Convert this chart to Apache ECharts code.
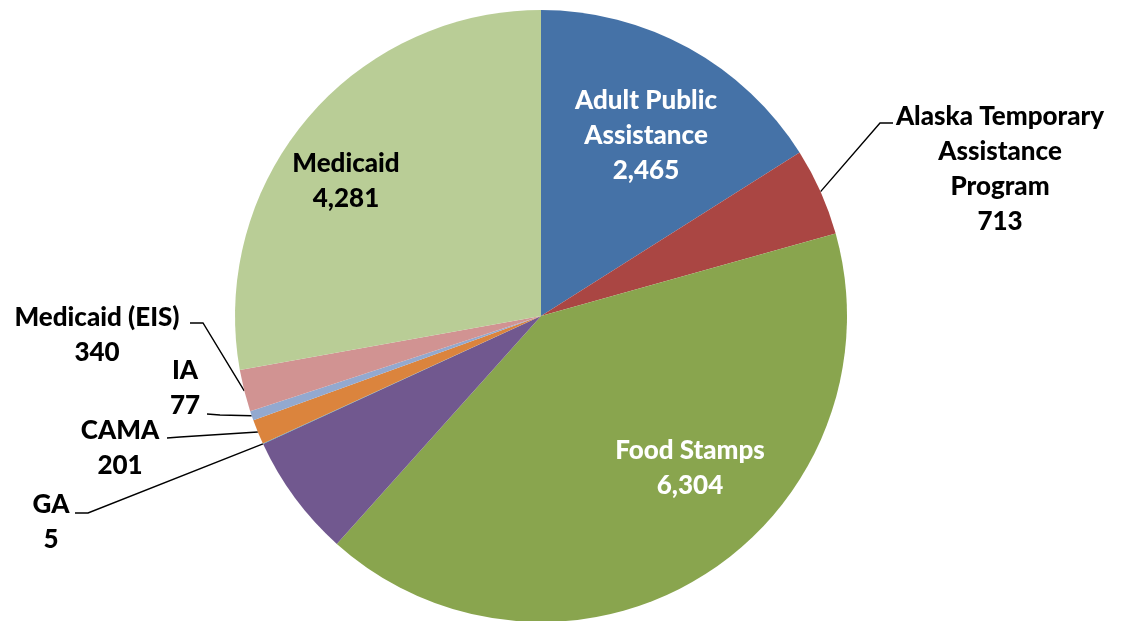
<!DOCTYPE html>
<html><head><meta charset="utf-8">
<script src="https://cdn.jsdelivr.net/npm/echarts@6/dist/echarts.min.js"></script>
<style>html,body{margin:0;padding:0;background:#fff}#c{width:1127px;height:621px}</style>
</head><body><div id="c"></div>
<script>
// Data
const categories = ['Adult Public\nAssistance', 'Alaska Temporary\nAssistance\nProgram', 'Food Stamps', 'Other', 'GA', 'CAMA', 'IA', 'Medicaid (EIS)', 'Medicaid'];
const values = [2465, 713, 6304, 1000, 5, 201, 77, 340, 4281];
const showLabel = [true, true, true, false, true, true, true, true, true];

// Styles / layout (not data)
const colors = ['#4572A7', '#AA4643', '#89A54E', '#71588F', '#4198AF', '#DB843D', '#93A9CF', '#D19392', '#B9CD96'];
const labelColors = ['#fff', '#000', '#fff', '#000', '#000', '#000', '#000', '#000', '#000'];
const spots = {
  0: { x: 646, y: 136 },
  1: { x: 1000, y: 169, line: [[880, 123], [893, 123]] },
  2: { x: 690, y: 468 },
  4: { x: 51, y: 522, line: [[88, 513], [75, 513]] },
  5: { x: 120, y: 448, line: [[180, 437], [167, 438]] },
  6: { x: 185, y: 388, line: [[220, 415], [207, 414]] },
  7: { x: 97, y: 335, line: [[203, 323], [190, 323]] },
  8: { x: 346, y: 181 }
};

const chart = echarts.init(document.getElementById('c'), null, { renderer: 'canvas' });
const data = categories.map((n, i) => ({
  name: n,
  value: values[i],
  itemStyle: { color: colors[i] },
  label: {
    show: showLabel[i],
    color: labelColors[i],
    position: spots[i] && spots[i].line ? 'outside' : 'inside'
  },
  labelLine: { show: !!(spots[i] && spots[i].line) }
}));

chart.setOption({
  animation: false,
  series: [{
    type: 'pie',
    center: [541, 316],
    radius: 306,
    startAngle: 90,
    clockwise: true,
    avoidLabelOverlap: false,
    data: data,
    itemStyle: { borderWidth: 0 },
    label: {
      fontFamily: 'Lato',
      fontWeight: 900,
      fontSize: 26,
      lineHeight: 35,
      align: 'center',
      formatter: p => p.name + '\n' + p.value.toLocaleString('en-US')
    },
    labelLine: {
      length: 10, length2: 10,
      lineStyle: { color: '#000', width: 1.4 }
    },
    labelLayout: function (p) {
      const s = spots[p.dataIndex];
      if (!s) return {};
      const out = { x: s.x, y: s.y, align: 'center', verticalAlign: 'middle' };
      if (s.line && p.labelLinePoints) {
        out.labelLinePoints = [p.labelLinePoints[0], s.line[0], s.line[1]];
      }
      return out;
    }
  }]
});
</script>
</body></html>
